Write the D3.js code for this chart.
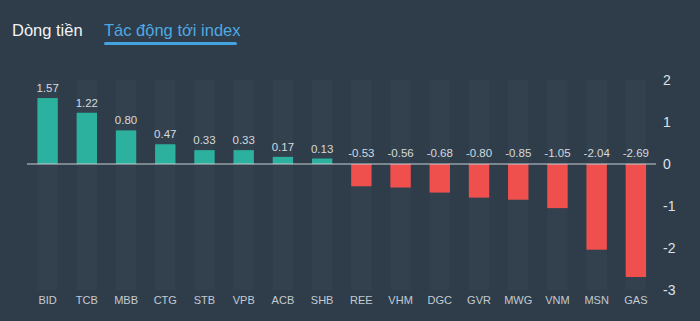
<!DOCTYPE html>
<html>
<head>
<meta charset="utf-8">
<script src="https://cdn.jsdelivr.net/npm/d3@7"></script>
<style>
  html, body { margin: 0; padding: 0; background: #2f3d4a; }
  svg { display: block; font-family: "Liberation Sans", Arial, sans-serif; }
</style>
</head>
<body>
<div id="chart"></div>
<script>
// values
var tickers = ["BID","TCB","MBB","CTG","STB","VPB","ACB","SHB","REE","VHM","DGC","GVR","MWG","VNM","MSN","GAS"];
var impact = [1.57, 1.22, 0.80, 0.47, 0.33, 0.33, 0.17, 0.13, -0.53, -0.56, -0.68, -0.80, -0.85, -1.05, -2.04, -2.69];
var yTicks = [2, 1, 0, -1, -2, -3];
var tabs = ["Dòng tiền", "Tác động tới index"];

var data = tickers.map(function(t, i){ return {ticker: t, value: impact[i]}; });

// plain hyphen for negatives, like the original
var fmtVal = function(v){ return v.toFixed(2); };
var fmtTick = function(v){ return String(v); };

var width = 700, height = 321;
var svg = d3.select("#chart").append("svg")
    .attr("width", width)
    .attr("height", height);

svg.append("rect")
    .attr("width", width).attr("height", height)
    .attr("fill", "#2f3d4a");

// tabs
svg.append("text")
    .attr("x", 12).attr("y", 36)
    .attr("fill", "#f2f4f6")
    .style("font-size", "16.5px")
    .text(tabs[0]);
svg.append("text")
    .attr("x", 104).attr("y", 36)
    .attr("fill", "#4ea9e2")
    .style("font-size", "16.5px")
    .text(tabs[1]);
svg.append("rect")
    .attr("x", 104).attr("y", 42)
    .attr("width", 133).attr("height", 3)
    .attr("rx", 1.5)
    .attr("fill", "#43a3e0");

var x = d3.scaleBand()
    .domain(tickers)
    .range([28, 655.5])
    .paddingInner(0.48)
    .paddingOuter(0.24);

var y = d3.scaleLinear()
    .domain([-3, 2])
    .range([290, 80]);

// faint background columns
svg.selectAll("rect.bg")
    .data(data)
  .enter().append("rect")
    .attr("class", "bg")
    .attr("x", function(d){ return x(d.ticker); })
    .attr("width", x.bandwidth())
    .attr("y", y(2))
    .attr("height", y(-3) - y(2))
    .attr("fill", "#33414e");

// bars
svg.selectAll("rect.bar")
    .data(data)
  .enter().append("rect")
    .attr("class", "bar")
    .attr("x", function(d){ return x(d.ticker); })
    .attr("width", x.bandwidth())
    .attr("y", function(d){ return d.value > 0 ? y(d.value) : y(0); })
    .attr("height", function(d){ return Math.abs(y(d.value) - y(0)); })
    .attr("fill", function(d){ return d.value > 0 ? "#2bb19e" : "#f0504d"; });

// zero line
svg.append("line")
    .attr("x1", 27).attr("x2", 656)
    .attr("y1", y(0)).attr("y2", y(0))
    .attr("stroke", "#c9d0d6")
    .attr("stroke-width", 1.2);

// value labels
svg.selectAll("text.val")
    .data(data)
  .enter().append("text")
    .attr("class", "val")
    .attr("x", function(d){ return x(d.ticker) + x.bandwidth() / 2; })
    .attr("y", function(d){ return d.value > 0 ? y(d.value) - 6 : y(0) - 7; })
    .attr("text-anchor", "middle")
    .attr("fill", "#d4dade")
    .style("font-size", "11.5px")
    .text(function(d){ return fmtVal(d.value); });

// y axis on the right
var yAxis = d3.axisRight(y).tickValues(yTicks).tickSize(0).tickPadding(0)
    .tickFormat(fmtTick);
var gy = svg.append("g")
    .attr("transform", "translate(663,0)")
    .call(yAxis);
gy.select(".domain").remove();
gy.selectAll("text")
    .attr("fill", "#dde2e6")
    .style("font-size", "14px")
    .style("font-family", "Liberation Sans, Arial, sans-serif");

// x axis labels
var xAxis = d3.axisBottom(x).tickSize(0).tickPadding(0);
var gx = svg.append("g")
    .attr("transform", "translate(0,296)")
    .call(xAxis);
gx.select(".domain").remove();
gx.selectAll("text")
    .attr("fill", "#c3cbd2")
    .style("font-size", "11px")
    .style("font-family", "Liberation Sans, Arial, sans-serif");
</script>
</body>
</html>
